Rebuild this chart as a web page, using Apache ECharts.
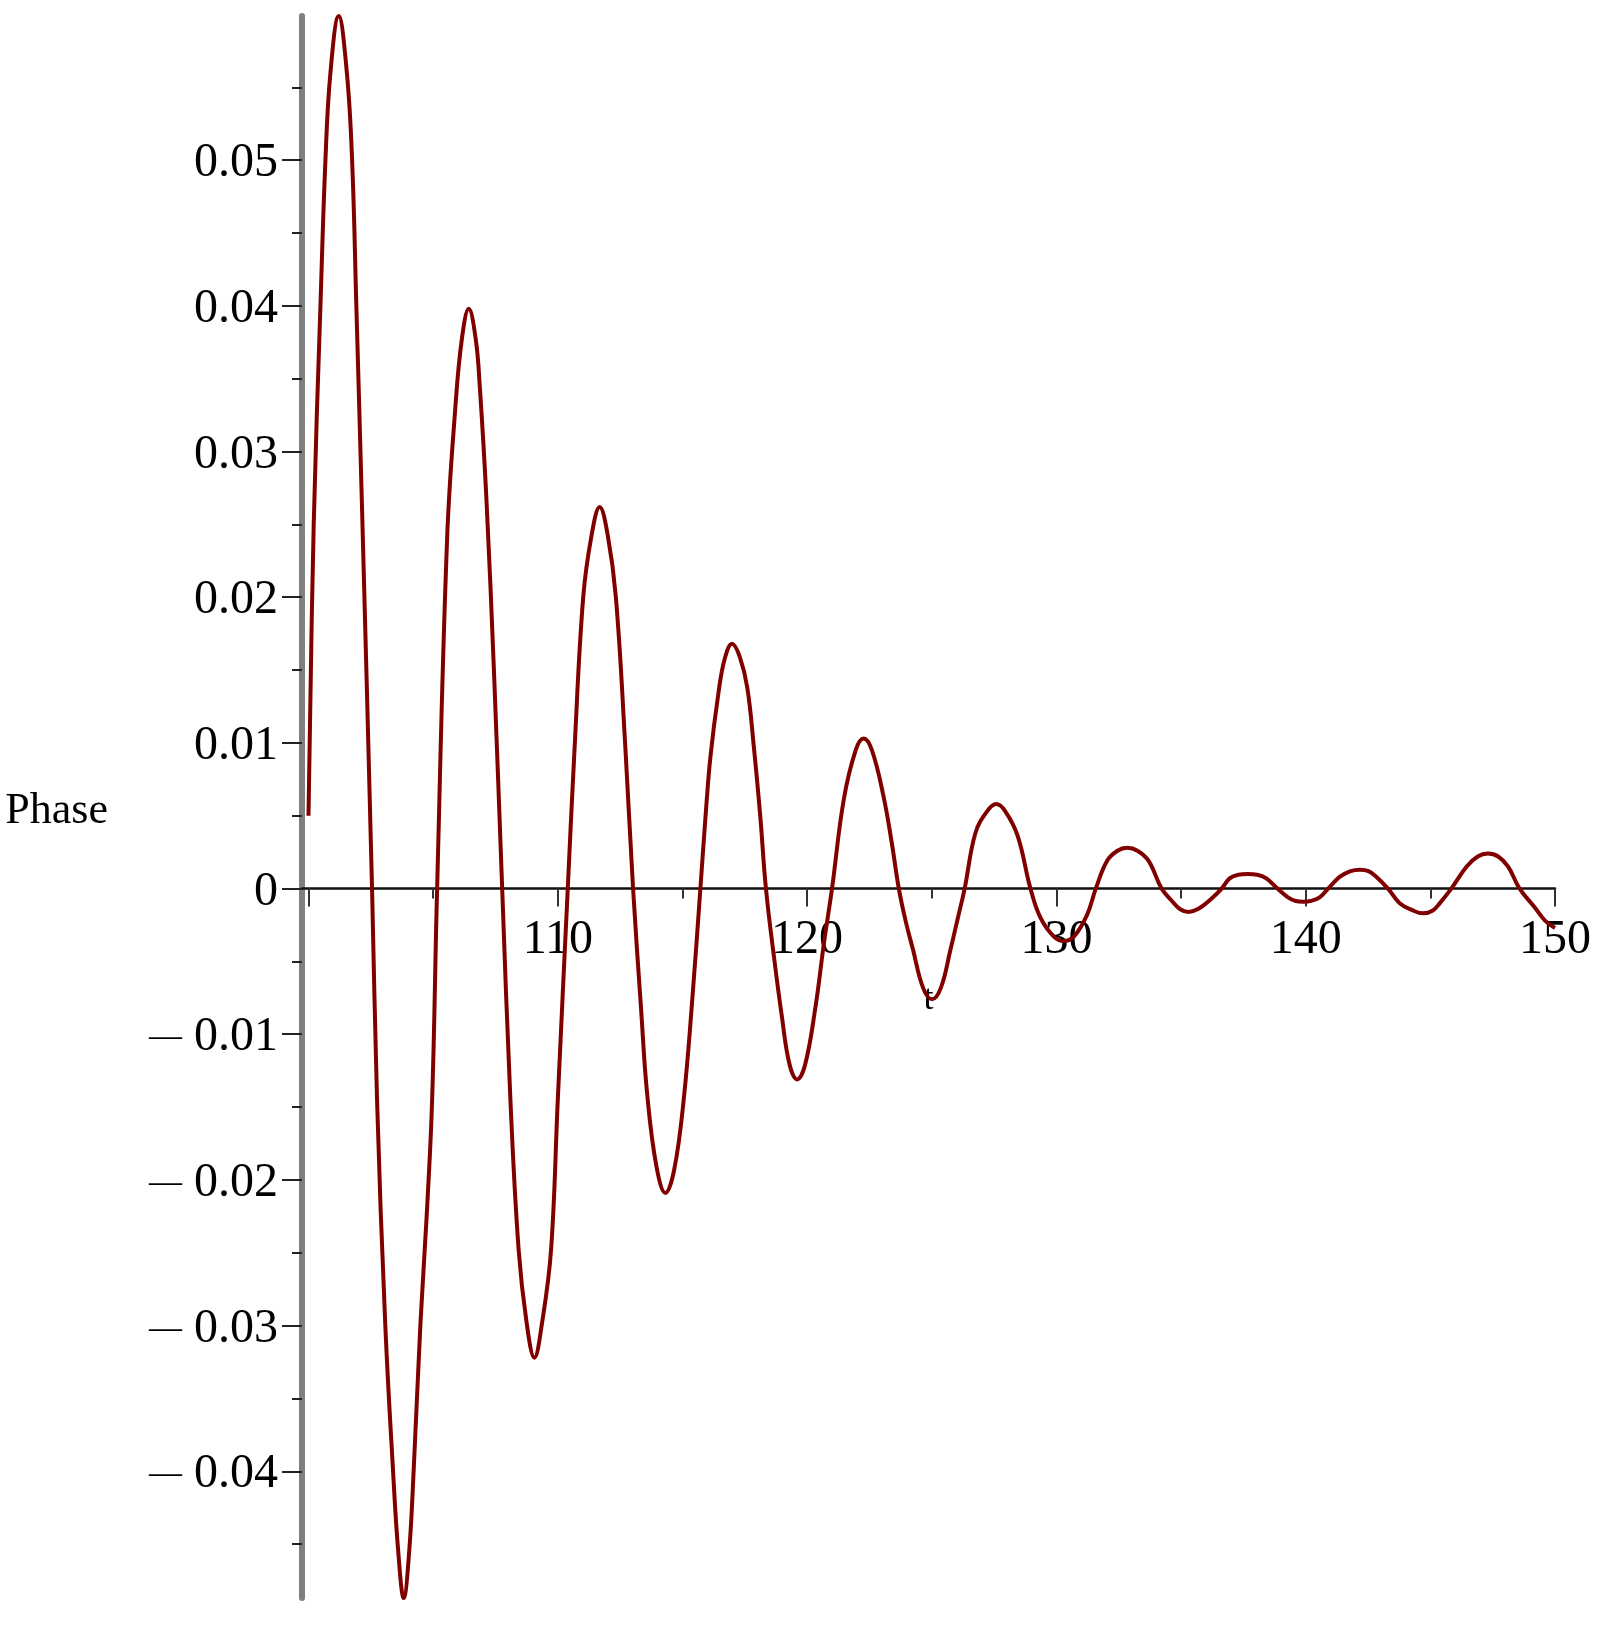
<!DOCTYPE html>
<html>
<head>
<meta charset="utf-8">
<script src="https://cdn.jsdelivr.net/npm/echarts@6/dist/echarts.min.js"></script>
<style>
html,body{margin:0;padding:0;background:#fff;}
#chart{width:1606px;height:1625px;}
</style>
</head>
<body>
<div id="chart"></div>
<script>
// ---- data ----
const tValues = [
  100.00, 100.21, 100.48, 100.68, 100.88, 101.21, 101.54, 101.75, 101.92, 102.15,
  102.55, 102.75, 103.08, 103.39, 103.60, 103.82, 104.04, 104.22, 104.49, 104.74,
  104.96, 105.16, 105.56, 105.89, 106.15, 106.43, 106.71, 106.87, 107.13, 107.45,
  107.77, 108.10, 108.43, 108.75, 109.06, 109.37, 109.73, 110.00, 110.40, 110.67,
  111.02, 111.36, 111.68, 112.00, 112.33, 112.71, 113.02, 113.35, 113.58, 113.95,
  114.32, 114.67, 115.05, 115.40, 115.72, 115.92, 116.12, 116.45, 116.70, 116.99,
  117.30, 117.60, 117.86, 118.12, 118.35, 118.68, 118.99, 119.30, 119.60, 119.92,
  120.33, 120.68, 121.00, 121.47, 121.95, 122.27, 122.60, 123.07, 123.40, 123.68,
  123.95, 124.25, 124.65, 125.01, 125.37, 125.75, 126.05, 126.32, 126.75, 127.22,
  127.59, 127.95, 128.45, 128.96, 129.36, 129.90, 130.29, 130.70, 131.23, 131.58,
  132.03, 132.45, 132.84, 133.25, 133.70, 134.22, 134.61, 134.95, 135.30, 135.68,
  136.15, 136.63, 136.95, 137.30, 137.67, 138.05, 138.42, 138.87, 139.29, 139.60,
  139.90, 140.20, 140.56, 140.90, 141.36, 141.80, 142.17, 142.52, 142.84, 143.30,
  143.77, 144.30, 144.71, 145.10, 145.38, 145.84, 146.45, 146.90, 147.31, 147.72,
  148.12, 148.58, 149.19, 149.60, 150.00
];
const phaseValues = [
  0.0050, 0.0250, 0.0400, 0.0500, 0.0560, 0.0599, 0.0560, 0.0500, 0.0400, 0.0260,
  0.0000, -0.0145, -0.0299, -0.0399, -0.0455, -0.0487, -0.0455, -0.0399, -0.0299, -0.0225,
  -0.0145, 0.0000, 0.0240, 0.0330, 0.0377, 0.0398, 0.0377, 0.0345, 0.0270, 0.0145,
  0.0000, -0.0145, -0.0248, -0.0298, -0.0322, -0.0298, -0.0248, -0.0145, 0.0000, 0.0095,
  0.0200, 0.0243, 0.0262, 0.0243, 0.0200, 0.0097, 0.0000, -0.0085, -0.0140, -0.0190,
  -0.0209, -0.0193, -0.0145, -0.0075, 0.0000, 0.0048, 0.0090, 0.0135, 0.0158, 0.0168,
  0.0159, 0.0138, 0.0098, 0.0050, 0.0000, -0.0048, -0.0088, -0.0121, -0.0131, -0.0121,
  -0.0082, -0.0037, 0.0000, 0.0061, 0.0095, 0.0103, 0.0095, 0.0063, 0.0031, 0.0000,
  -0.0022, -0.0042, -0.0068, -0.0076, -0.0068, -0.0042, -0.0020, 0.0000, 0.0038, 0.0053,
  0.0058, 0.0053, 0.0036, 0.0000, -0.0020, -0.0033, -0.0036, -0.0033, -0.0018, 0.0000,
  0.0019, 0.0026, 0.0028, 0.0026, 0.0019, 0.0000, -0.0008, -0.0014, -0.0016, -0.0014,
  -0.0008, 0.0000, 0.0007, 0.00095, 0.0010, 0.00095, 0.0007, 0.0000, -0.0006, -0.00085,
  -0.0009, -0.00085, -0.0006, 0.0000, 0.0008, 0.0012, 0.0013, 0.0012, 0.0008, 0.0000,
  -0.0010, -0.0015, -0.0017, -0.0015, -0.0010, 0.0000, 0.0015, 0.0022, 0.0024, 0.0022,
  0.0015, 0.0000, -0.0013, -0.0022, -0.0027
];
const xMajorTicks = [100, 110, 120, 130, 140, 150];
const xMinorTicks = [105, 115, 125, 135, 145];
const xTickLabels = [110, 120, 130, 140, 150];
const yMajorTicks = [-0.04, -0.03, -0.02, -0.01, 0, 0.01, 0.02, 0.03, 0.04, 0.05];
const yMinorTicks = [-0.045, -0.035, -0.025, -0.015, -0.005, 0.005, 0.015, 0.025, 0.035, 0.045, 0.055];
const xLabelName = 't';
const yLabelName = 'Phase';

// ---- chart ----
const X_MIN = 99.74, X_MAX = 150, Y_MIN = -0.0487, Y_MAX = 0.0599;
const GRID_TOP = 16, GRID_H = 1582;
// distance from the grid bottom up to the value 0 on the y scale
const ZERO_OFFSET = -GRID_H * (0 - Y_MIN) / (Y_MAX - Y_MIN);
const serif = '"Liberation Serif", "DejaVu Serif", serif';
function fmtY(v) {
  if (Math.abs(v) < 1e-9) return '0';
  const s = Math.abs(v).toFixed(2);
  return v < 0 ? '{m|\u2014} ' + s : s;
}
const chart = echarts.init(document.getElementById('chart'), null, {renderer: 'canvas'});
chart.setOption({
  animation: false,
  backgroundColor: '#ffffff',
  grid: {left: 302, top: GRID_TOP, width: 1253, height: GRID_H, containLabel: false, outerBoundsMode: 'none'},
  xAxis: [{
    type: 'value', min: X_MIN, max: X_MAX, position: 'bottom', offset: ZERO_OFFSET,
    name: xLabelName, nameLocation: 'middle', nameGap: 93,
    nameTextStyle: {fontFamily: serif, fontSize: 36, color: '#000'},
    axisLine: {show: true, onZero: false, lineStyle: {color: '#111', width: 2.5}},
    axisTick: {show: true, length: 18, customValues: xMajorTicks, lineStyle: {color: '#333', width: 2}},
    axisLabel: {show: true, customValues: xTickLabels, margin: 28, fontFamily: serif, fontSize: 48, color: '#000'},
    splitLine: {show: false}
  }, {
    type: 'value', min: X_MIN, max: X_MAX, position: 'bottom', offset: ZERO_OFFSET,
    axisLine: {show: false, onZero: false},
    axisTick: {show: true, length: 10, customValues: xMinorTicks, lineStyle: {color: '#333', width: 2}},
    axisLabel: {show: false},
    splitLine: {show: false}
  }],
  yAxis: [{
    type: 'value', min: Y_MIN, max: Y_MAX, position: 'left',
    name: yLabelName, nameLocation: 'middle', nameGap: 194, nameRotate: 0,
    nameTextStyle: {fontFamily: serif, fontSize: 44, color: '#000', align: 'right', verticalAlign: 'top', lineHeight: 8},
    axisLine: {show: true, onZero: false, lineStyle: {color: '#808080', width: 6}},
    axisTick: {show: true, length: 20, customValues: yMajorTicks, lineStyle: {color: '#222', width: 2}},
    axisLabel: {
      show: true, customValues: yMajorTicks, margin: 24, fontFamily: serif, fontSize: 48, color: '#000',
      padding: [7, 0, 0, 0], formatter: fmtY,
      rich: {m: {fontFamily: serif, fontSize: 33, color: '#000'}}
    },
    splitLine: {show: false}
  }, {
    type: 'value', min: Y_MIN, max: Y_MAX, position: 'left',
    axisLine: {show: false, onZero: false},
    axisTick: {show: true, length: 10, customValues: yMinorTicks, lineStyle: {color: '#222', width: 2}},
    axisLabel: {show: false},
    splitLine: {show: false}
  }],
  series: [{
    type: 'line', xAxisIndex: 0, yAxisIndex: 0,
    data: tValues.map((t, i) => [t, phaseValues[i]]),
    smooth: 0.4, showSymbol: false, symbol: 'none',
    lineStyle: {color: '#800000', width: 4},
    z: 3
  }]
});
</script>
</body>
</html>
